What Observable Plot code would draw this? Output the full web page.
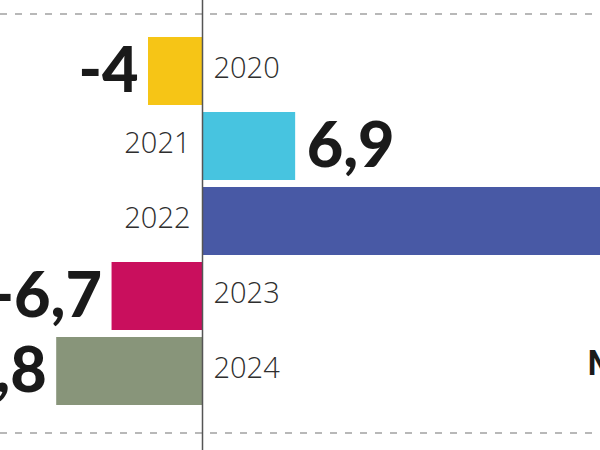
<!DOCTYPE html>
<html><head><meta charset="utf-8">
<script src="https://cdn.jsdelivr.net/npm/d3@7"></script>
<script src="https://cdn.jsdelivr.net/npm/@observablehq/plot@0.6"></script>
<style>body{margin:0;background:#fff} #chart svg{display:block;background:#fff}</style>
</head><body><div id="chart"></div>
<script>
const years = ["2020", "2021", "2022", "2023", "2024"];
const values = [-4, 6.9, 32, -6.7, -10.8];
const colors = ["#f6c516", "#47c4e0", "#4859a5", "#c90f5d", "#88957a"];
const noteText = ["M"];

const data = years.map((y, i) => ({year: y, value: values[i]}));
const fmt = v => String(v).replace(".", ",");
const neg = data.filter(d => d.value < 0);
const pos = data.filter(d => d.value >= 0);

const pxPerUnit = 13.5;
const W = 600, H = 450, MT = 28.5, MB = 36.5;

const dashes = (index, scales, vals, dims) => {
  const g = d3.create("svg:g");
  [14, 433].forEach(y => {
    g.append("line").attr("x1", 0).attr("x2", dims.width).attr("y1", y).attr("y2", y)
      .attr("stroke", "#b8b8b8").attr("stroke-width", 2).attr("stroke-dasharray", "7 8");
  });
  return g.node();
};

const yearStyle = {fontFamily: "Open Sans", fontWeight: 300, fontSize: 29, fill: "#2e2e2e"};
const valStyle = {fontFamily: "Lato", fontWeight: 900, fontSize: 63, fill: "#1a1a1a"};

const chart = Plot.plot({
  width: W, height: H,
  marginLeft: 0, marginRight: 0, marginTop: MT, marginBottom: MB,
  x: {domain: [-202 / pxPerUnit, 398 / pxPerUnit], axis: null},
  y: {domain: years, axis: null, padding: 0.1},
  color: {domain: years, range: colors},
  marks: [
    dashes,
    Plot.barX(data, {x: "value", y: "year", fill: "year"}),
    Plot.ruleX([0], {stroke: "#555", strokeWidth: 1.5, insetTop: -MT, insetBottom: -MB}),
    Plot.text(neg, {x: 0, y: "year", text: "year", textAnchor: "start", dx: 11, dy: -3, ...yearStyle}),
    Plot.text(pos, {x: 0, y: "year", text: "year", textAnchor: "end", dx: -12, dy: -3, ...yearStyle}),
    Plot.text(neg, {x: "value", y: "year", text: d => fmt(d.value), textAnchor: "end", dx: -10, ...valStyle}),
    Plot.text(pos, {x: "value", y: "year", text: d => fmt(d.value), textAnchor: "start", dx: 11, ...valStyle}),
    Plot.text(noteText, {x: 28.5, y: ["2024"], text: d => d, textAnchor: "start", dy: -7,
      fontFamily: "Lato", fontWeight: 900, fontSize: 34, fill: "#1a1a1a"})
  ]
});
document.getElementById("chart").appendChild(chart);
</script>
</body></html>
